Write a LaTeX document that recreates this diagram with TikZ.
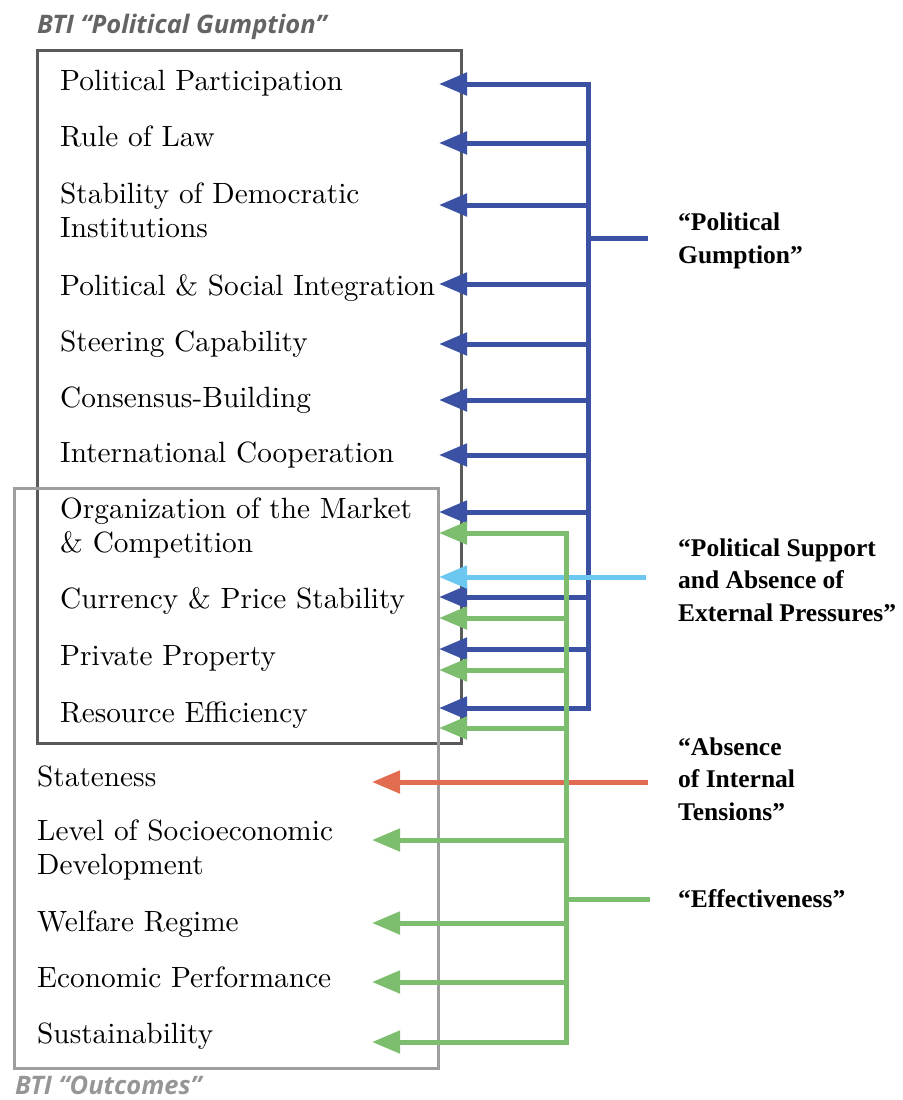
\documentclass[tikz,border=0pt]{standalone}
\usepackage{fontspec}
\setmainfont{lmroman10-regular.otf}[BoldFont=lmroman10-bold.otf, ItalicFont=lmroman10-italic.otf]
\newfontfamily\titlefont{Open Sans}
\newfontfamily\lblfont{Liberation Serif}
\usetikzlibrary{arrows.meta}
\definecolor{pgblue}{RGB}{59,82,164}
\definecolor{efgreen}{RGB}{125,190,110}
\definecolor{spblue}{RGB}{108,200,240}
\definecolor{itred}{RGB}{226,108,80}
\definecolor{darkbox}{RGB}{90,90,90}
\definecolor{lightbox}{RGB}{158,158,158}
\definecolor{ttldark}{RGB}{100,100,100}
\definecolor{ttllight}{RGB}{150,150,150}
\begin{document}
\begin{tikzpicture}[x=1pt,y=-1pt,
 item/.style={font=\fontsize{29.3}{33.5}\selectfont, anchor=base west, inner sep=0pt, align=left},
 lbl/.style={font=\lblfont\bfseries\fontsize{25.5}{32.5}\selectfont, anchor=base west, inner sep=0pt, align=left},
 ttl/.style={font=\titlefont\bfseries\itshape\fontsize{25.5}{30}\selectfont, anchor=base west, inner sep=0pt},
 boxframe/.style={line width=3pt, anchor=north west, inner sep=0pt},
 conn/.style={line width=5pt},
 arr/.style={conn, -{Triangle[length=28pt,width=22pt]}},
]
\useasboundingbox (0,0) rectangle (902,1100);

% frames
\node (pgbox) [boxframe, draw=darkbox, minimum width=424.5pt, minimum height=693pt] at (35.5,49) {};
\node (outbox) [boxframe, draw=lightbox, minimum width=424pt, minimum height=580pt] at (13,487) {};

% titles
\node (tpg) [ttl, text=ttldark] at (37,33) {BTI “Political Gumption”};
\node (tout) [ttl, text=ttllight] at (15,1094) {BTI “Outcomes”};

% political gumption items (multi-line nodes placed by their last baseline)
\node (pp)  [item] at (60,90)  {Political Participation};
\node (rol) [item] at (60,146) {Rule of Law};
\node (sdi) [item] at (60,237) {Stability of Democratic\\Institutions};
\node (psi) [item] at (60,295) {Political \& Social Integration};
\node (stc) [item] at (60,351) {Steering Capability};
\node (cb)  [item] at (60,407) {Consensus-Building};
\node (ic)  [item] at (60,462) {International Cooperation};
\node (omc) [item] at (60,552) {Organization of the Market\\\& Competition};
\node (cps) [item] at (60,608) {Currency \& Price Stability};
\node (pr)  [item] at (60,665) {Private Property};
\node (re)  [item] at (60,722) {Resource Efficiency};
% outcomes items
\node (st)  [item] at (37,786) {Stateness};
\node (lsd) [item] at (37,874) {Level of Socioeconomic\\Development};
\node (wr)  [item] at (37,931) {Welfare Regime};
\node (ep)  [item] at (37,987) {Economic Performance};
\node (su)  [item] at (37,1043) {Sustainability};

% right labels
\node (lpg) [lbl] at (678,263) {“Political\\Gumption”};
\node (lsp) [lbl] at (678,621) {“Political Support\\and Absence of\\External Pressures”};
\node (lit) [lbl] at (678,820) {“Absence\\of Internal\\Tensions”};
\node (lef) [lbl] at (678,907) {“Effectiveness”};

% blue connectors
\coordinate (bT) at (588,84);
\coordinate (bB) at (588,708);
\draw[conn, pgblue, line cap=rect] (bT) -- (bB);
\foreach \y/\n in {84/1,143/2,205/3,284/4,344/5,400/6,455/7,512/8,597/9,649/10,708/11}{
  \coordinate (bj\n) at (588,\y);
  \coordinate (bt\n) at (439,\y);
  \draw[arr, pgblue] (bj\n) -- (bt\n);
}
\coordinate (bjPG) at (588,238);
\coordinate (bePG) at (648,238);
\draw[conn, pgblue] (bjPG) -- (bePG);

% light blue connector
\coordinate (spS) at (646,577);
\coordinate (spT) at (439,577);
\draw[arr, spblue] (spS) -- (spT);

% red connector
\coordinate (itS) at (648,782);
\coordinate (itT) at (372,782);
\draw[arr, itred] (itS) -- (itT);

% green connectors
\coordinate (gT) at (566,533);
\coordinate (gB) at (566,1042);
\draw[conn, efgreen, line cap=rect] (gT) -- (gB);
\foreach \y/\x/\n in {533/439/1,618/439/2,670/439/3,728/439/4,840/372/5,923/372/6,982/372/7,1042/372/8}{
  \coordinate (gj\n) at (566,\y);
  \coordinate (gt\n) at (\x,\y);
  \draw[arr, efgreen] (gj\n) -- (gt\n);
}
\coordinate (gjEF) at (566,899);
\coordinate (geEF) at (650,899);
\draw[conn, efgreen] (gjEF) -- (geEF);
\end{tikzpicture}
\end{document}
